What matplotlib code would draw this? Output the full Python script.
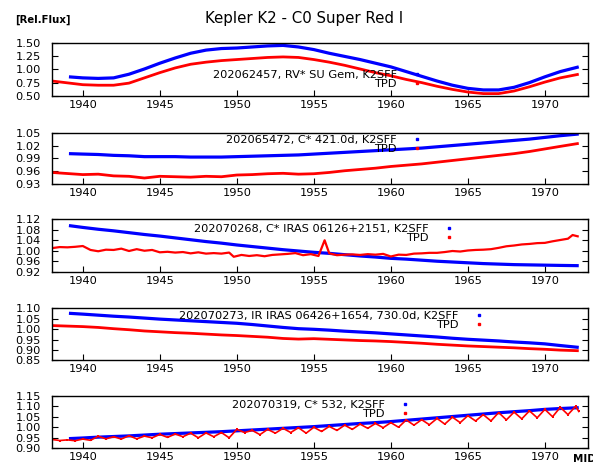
import numpy as np
import matplotlib
matplotlib.use("Agg")
import matplotlib.pyplot as plt
from matplotlib.lines import Line2D

# ---- data ----
title = "Kepler K2 - C0 Super Red I"
labels = ["202062457, RV* SU Gem, K2SFF",
          "202065472, C* 421.0d, K2SFF",
          "202070268, C* IRAS 06126+2151, K2SFF",
          "202070273, IR IRAS 06426+1654, 730.0d, K2SFF",
          "202070319, C* 532, K2SFF"]

xb = [1939.1, 1940, 1941, 1942, 1943, 1944, 1945, 1946, 1947, 1948, 1949, 1950,
      1951, 1952, 1953, 1954, 1955, 1956, 1957, 1958, 1959, 1960, 1961, 1962,
      1963, 1964, 1965, 1966, 1967, 1968, 1969, 1970, 1971, 1972.2]
xr = [1938] + xb[1:]

k2sff_1 = [0.86, 0.84, 0.83, 0.84, 0.91, 1.01, 1.12, 1.22, 1.31, 1.37, 1.40, 1.41,
           1.43, 1.45, 1.46, 1.43, 1.38, 1.31, 1.25, 1.19, 1.12, 1.05, 0.96, 0.87,
           0.78, 0.70, 0.64, 0.61, 0.61, 0.66, 0.75, 0.86, 0.96, 1.05]
tpd_1 = [0.78, 0.71, 0.70, 0.70, 0.74, 0.84, 0.94, 1.03, 1.10, 1.14, 1.17, 1.19,
         1.21, 1.23, 1.24, 1.23, 1.19, 1.14, 1.08, 1.01, 0.94, 0.88, 0.81, 0.75,
         0.68, 0.62, 0.57, 0.54, 0.54, 0.59, 0.67, 0.76, 0.84, 0.91]

k2sff_2 = [1.001, 1.000, 0.999, 0.997, 0.996, 0.994, 0.994, 0.994, 0.993, 0.993, 0.993, 0.994,
           0.995, 0.996, 0.997, 0.998, 1.000, 1.002, 1.004, 1.006, 1.008, 1.010, 1.012, 1.014,
           1.017, 1.020, 1.023, 1.026, 1.029, 1.032, 1.035, 1.039, 1.043, 1.047]
tpd_2 = [0.957, 0.952, 0.953, 0.949, 0.948, 0.944, 0.948, 0.947, 0.946, 0.948, 0.947, 0.951,
         0.952, 0.954, 0.955, 0.953, 0.954, 0.957, 0.961, 0.964, 0.967, 0.971, 0.974, 0.977,
         0.981, 0.985, 0.989, 0.993, 0.997, 1.001, 1.006, 1.012, 1.018, 1.025]

k2sff_3 = [1.096, 1.089, 1.082, 1.076, 1.069, 1.062, 1.056, 1.049, 1.042, 1.035, 1.029, 1.022,
           1.016, 1.010, 1.004, 0.999, 0.994, 0.990, 0.985, 0.980, 0.976, 0.971, 0.968, 0.964,
           0.960, 0.957, 0.954, 0.951, 0.949, 0.947, 0.946, 0.945, 0.944, 0.943]
xr3 = [1938.0, 1938.5, 1939.0, 1939.5, 1940.0, 1940.5, 1941.0, 1941.5, 1942.0, 1942.5,
       1943.0, 1943.5, 1944.0, 1944.5, 1945.0, 1945.5, 1946.0, 1946.5, 1947.0, 1947.5,
       1948.0, 1948.5, 1949.0, 1949.5, 1949.8, 1950.3, 1950.8, 1951.3, 1951.8, 1952.3,
       1952.8, 1953.3, 1953.8, 1954.3, 1954.8, 1955.3, 1955.7, 1956.0, 1956.5, 1957.0,
       1957.5, 1958.0, 1958.5, 1959.0, 1959.5, 1960.0, 1960.5, 1961.0, 1961.5, 1962.0,
       1962.5, 1963.0, 1963.5, 1964.0, 1964.5, 1965.0, 1965.5, 1966.0, 1966.5, 1967.0,
       1967.5, 1968.0, 1968.5, 1969.0, 1969.5, 1970.0, 1970.5, 1971.0, 1971.5, 1971.8, 1972.2]
tpd_3 = [1.010, 1.014, 1.013, 1.015, 1.018, 1.003, 0.998, 1.004, 1.003, 1.008,
         0.999, 1.006, 1.000, 1.003, 0.994, 0.996, 0.993, 0.995, 0.990, 0.994,
         0.989, 0.991, 0.989, 0.993, 0.977, 0.984, 0.980, 0.983, 0.979, 0.984,
         0.986, 0.988, 0.991, 0.983, 0.987, 0.980, 1.040, 0.990, 0.983, 0.985,
         0.986, 0.984, 0.987, 0.985, 0.988, 0.978, 0.985, 0.984, 0.989, 0.990,
         0.992, 0.992, 0.995, 0.999, 0.997, 1.001, 1.003, 1.004, 1.006, 1.011,
         1.017, 1.020, 1.024, 1.026, 1.029, 1.030, 1.036, 1.041, 1.046, 1.060, 1.054]

k2sff_4 = [1.076, 1.072, 1.067, 1.062, 1.058, 1.053, 1.048, 1.044, 1.040, 1.036, 1.032, 1.028,
           1.022, 1.015, 1.008, 1.002, 0.999, 0.995, 0.990, 0.986, 0.982, 0.977, 0.972, 0.967,
           0.962, 0.956, 0.951, 0.947, 0.943, 0.938, 0.934, 0.929, 0.921, 0.912]
tpd_4 = [1.017, 1.012, 1.008, 1.002, 0.997, 0.991, 0.987, 0.983, 0.980, 0.976, 0.972, 0.969,
         0.965, 0.961, 0.955, 0.952, 0.954, 0.951, 0.948, 0.945, 0.943, 0.940, 0.936, 0.932,
         0.927, 0.923, 0.919, 0.916, 0.913, 0.910, 0.906, 0.903, 0.899, 0.896]

k2sff_5 = [0.946, 0.949, 0.953, 0.956, 0.959, 0.963, 0.967, 0.970, 0.973, 0.976, 0.979, 0.983,
           0.987, 0.991, 0.995, 0.999, 1.003, 1.008, 1.013, 1.018, 1.022, 1.027, 1.033, 1.039,
           1.045, 1.051, 1.057, 1.063, 1.069, 1.074, 1.079, 1.085, 1.089, 1.093]
xr5 = [1938.0, 1938.5, 1939.0, 1939.5, 1940.0, 1940.5, 1941.0, 1941.5, 1942.0, 1942.5,
       1943.0, 1943.5, 1944.0, 1944.5, 1945.0, 1945.5, 1946.0, 1946.5, 1947.0, 1947.5,
       1948.0, 1948.5, 1949.0, 1949.5, 1950.0, 1950.5, 1951.0, 1951.5, 1952.0, 1952.5,
       1953.0, 1953.5, 1954.0, 1954.5, 1955.0, 1955.5, 1956.0, 1956.5, 1957.0, 1957.5,
       1958.0, 1958.5, 1959.0, 1959.5, 1960.0, 1960.5, 1961.0, 1961.5, 1962.0, 1962.5,
       1963.0, 1963.5, 1964.0, 1964.5, 1965.0, 1965.5, 1966.0, 1966.5, 1967.0, 1967.5,
       1968.0, 1968.5, 1969.0, 1969.5, 1970.0, 1970.5, 1971.0, 1971.5, 1972.0, 1972.2]
tpd_5 = [0.942, 0.937, 0.940, 0.936, 0.944, 0.938, 0.957, 0.945, 0.955, 0.944,
         0.960, 0.945, 0.958, 0.950, 0.966, 0.952, 0.968, 0.955, 0.972, 0.950,
         0.973, 0.955, 0.975, 0.950, 0.990, 0.975, 0.985, 0.965, 0.990, 0.972,
         0.995, 0.975, 0.998, 0.972, 1.000, 0.980, 1.004, 0.985, 1.010, 0.990,
         1.015, 0.995, 1.018, 0.998, 1.022, 1.000, 1.035, 1.010, 1.036, 1.012,
         1.042, 1.015, 1.048, 1.022, 1.055, 1.030, 1.060, 1.030, 1.070, 1.035,
         1.072, 1.040, 1.078, 1.045, 1.085, 1.050, 1.095, 1.060, 1.100, 1.075]

panels = [
    (xb, k2sff_1, xr, tpd_1, [0.50, 0.75, 1.00, 1.25, 1.50]),
    (xb, k2sff_2, xr, tpd_2, [0.93, 0.96, 0.99, 1.02, 1.05]),
    (xb, k2sff_3, xr3, tpd_3, [0.92, 0.96, 1.00, 1.04, 1.08, 1.12]),
    (xb, k2sff_4, xr, tpd_4, [0.85, 0.90, 0.95, 1.00, 1.05, 1.10]),
    (xb, k2sff_5, xr5, tpd_5, [0.90, 0.95, 1.00, 1.05, 1.10, 1.15]),
]
xticks = [1940, 1945, 1950, 1955, 1960, 1965, 1970]

# ---- layout (pixels of the 593x463 reference) ----
W, H = 593, 463
ax_top_bot = [(43.3, 95.7), (132.7, 184.0), (219.3, 271.7), (308.3, 360.3), (395.7, 448.3)]
key_pos = [(423, 70), (423, 135), (455, 224), (485, 311), (411, 400)]

plt.rcParams['font.family'] = ['DejaVu Sans']
fig = plt.figure(figsize=(W / 100, H / 100), dpi=100)

for i, (bx, by, rx, ry, yt) in enumerate(panels):
    top, bot = ax_top_bot[i]
    ax = fig.add_axes([52 / W, 1 - bot / H, (588 - 52) / W, (bot - top) / H])
    ax.plot(bx, by, color='#0000ff', lw=2.3, solid_capstyle='butt')
    if i == 4:
        ax.plot(rx, ry, color='#ff0000', lw=1.2, marker='s', ms=1.8, mew=0)
    else:
        ax.plot(rx, ry, color='#ff0000', lw=2.0 if i != 2 else 1.6, solid_capstyle='butt')
    ax.set_xlim(1938, 1972.8)
    ax.set_ylim(yt[0], yt[-1])
    ax.set_yticks(yt)
    ax.set_yticklabels(["%.2f" % v for v in yt])
    ax.set_xticks(xticks)
    ax.tick_params(direction='in', length=4, width=0.8, labelsize=8.2, right=True, top=False,
                   colors='black')
    ax.tick_params(axis='y', pad=8)
    ax.tick_params(axis='x', pad=3)
    for s in ax.spines.values():
        s.set_linewidth(1.0)
    handles = [Line2D([], [], color='#0000ff', marker='s', ms=2, ls='none'),
               Line2D([], [], color='#ff0000', marker='s', ms=2, ls='none')]
    kx, ky = key_pos[i]
    ax.legend(handles, [labels[i], "TPD"], markerfirst=False, frameon=False,
              loc='upper right', bbox_to_anchor=(kx / W, 1 - ky / H),
              bbox_transform=fig.transFigure, fontsize=8.2, labelspacing=-0.08,
              handlelength=1.0, handletextpad=1.3, borderpad=0, borderaxespad=0)

fig.text(304.5 / W, 1 - 18 / H, title, ha='center', va='center', fontsize=10.8)
fig.text(15 / W, 1 - 20 / H, "[Rel.Flux]", ha='left', va='center', fontsize=7.3,
         fontweight='bold')
fig.text(573 / W, 1 - 462 / H, "MID", ha='left', va='baseline', fontsize=7.5,
         fontweight='bold')

fig.savefig("out.png", dpi=100)
